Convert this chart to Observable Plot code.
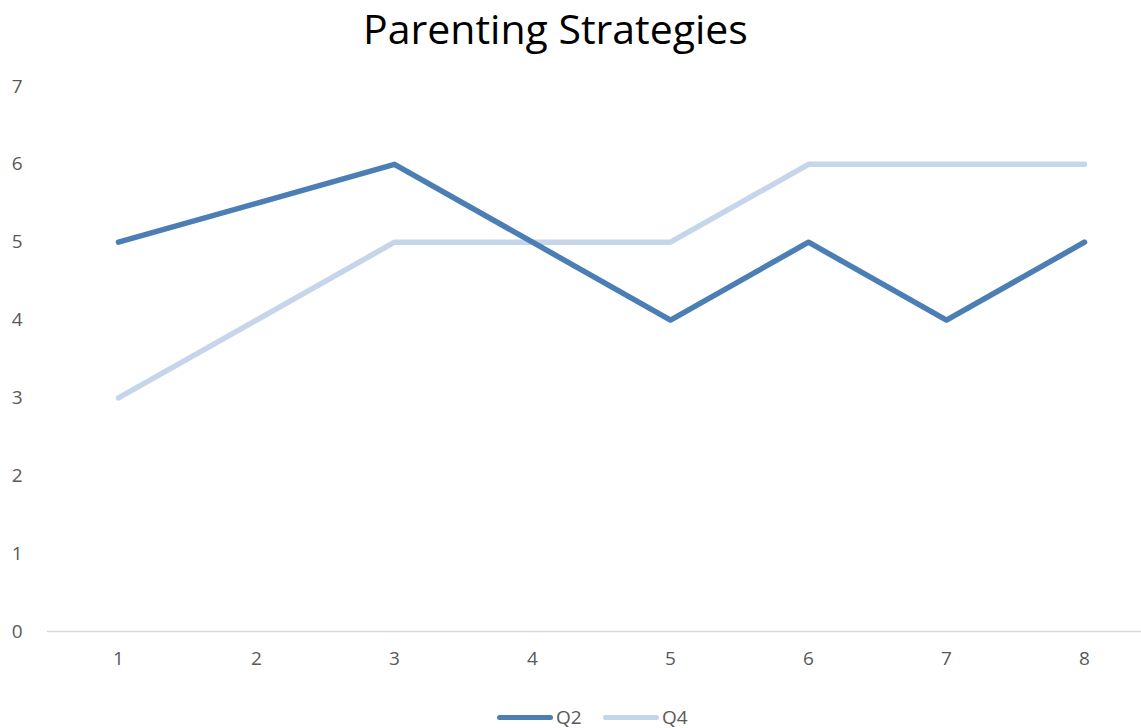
<!DOCTYPE html>
<html>
<head>
<meta charset="utf-8">
<script src="https://cdn.jsdelivr.net/npm/d3@7"></script>
<script src="https://cdn.jsdelivr.net/npm/@observablehq/plot@0.6"></script>
<style>
  html, body { margin: 0; padding: 0; background: #fff; width: 1141px; height: 728px; overflow: hidden; }
  #title { height: 60px; line-height: 56px; font-family: "Open Sans", sans-serif; font-size: 41px; color: #000; text-align: center; width: 1111px; }
  #legend { position: absolute; top: 703px; left: 0; width: 1141px; height: 26px; font-family: "Open Sans", sans-serif; font-size: 19px; color: #595959; }
  .item { position: absolute; top: 0; display: flex; align-items: center; height: 28px; }
  .swatch { width: 56px; height: 5px; border-radius: 3px; margin-right: 3px; }
  #chart svg { display: block; }
</style>
</head>
<body>
<div id="title">Parenting Strategies</div>
<div id="chart"></div>
<div id="legend"></div>
<script>
const categories = ["1", "2", "3", "4", "5", "6", "7", "8"];
const q2 = [5, 5.5, 6, 5, 4, 5, 4, 5];
const q4 = [3, 4, 5, 5, 5, 6, 6, 6];
const yTicks = [0, 1, 2, 3, 4, 5, 6, 7];
const seriesNames = ["Q2", "Q4"];
const seriesColors = ["#4a7eb4", "#c5d5ea"];

const data = [];
categories.forEach((c, i) => {
  data.push({series: "Q2", x: c, y: q2[i]});
  data.push({series: "Q4", x: c, y: q4[i]});
});

const svgHeight = 630;
const plot = Plot.plot({
  width: 1141,
  height: svgHeight,
  marginLeft: 47,
  marginRight: 0,
  marginTop: 26,
  marginBottom: 59,
  style: {fontFamily: "Open Sans, sans-serif", fontSize: "19px", color: "#595959", background: "#fff"},
  x: {type: "point", domain: categories, range: [46.7, 1155.3], padding: 0.5},
  y: {domain: [0, 7], range: [571, 26]},
  color: {domain: seriesNames, range: seriesColors},
  marks: [
    Plot.axisY({ticks: yTicks, tickFormat: d3.format("d"), tickSize: 0, tickPadding: 25, label: null, fill: "#595959", fontSize: 19}),
    Plot.axisX({tickSize: 0, tickPadding: 20, label: null, fill: "#595959", fontSize: 19}),
    Plot.ruleY([0], {stroke: "#d9d9d9", strokeWidth: 1.5}),
    Plot.line(data.filter(d => d.series === "Q4"), {x: "x", y: "y", stroke: "series", strokeWidth: 5.5, strokeLinecap: "round", strokeLinejoin: "round"}),
    Plot.line(data.filter(d => d.series === "Q2"), {x: "x", y: "y", stroke: "series", strokeWidth: 5.5, strokeLinecap: "round", strokeLinejoin: "round"})
  ]
});
document.getElementById("chart").appendChild(plot);

const legend = document.getElementById("legend");
const lefts = [497, 603];
seriesNames.forEach((name, i) => {
  const item = document.createElement("div");
  item.className = "item";
  item.style.left = lefts[i] + "px";
  const sw = document.createElement("div");
  sw.className = "swatch";
  sw.style.background = seriesColors[i];
  const t = document.createElement("span");
  t.textContent = name;
  item.appendChild(sw);
  item.appendChild(t);
  legend.appendChild(item);
});
</script>
</body>
</html>
